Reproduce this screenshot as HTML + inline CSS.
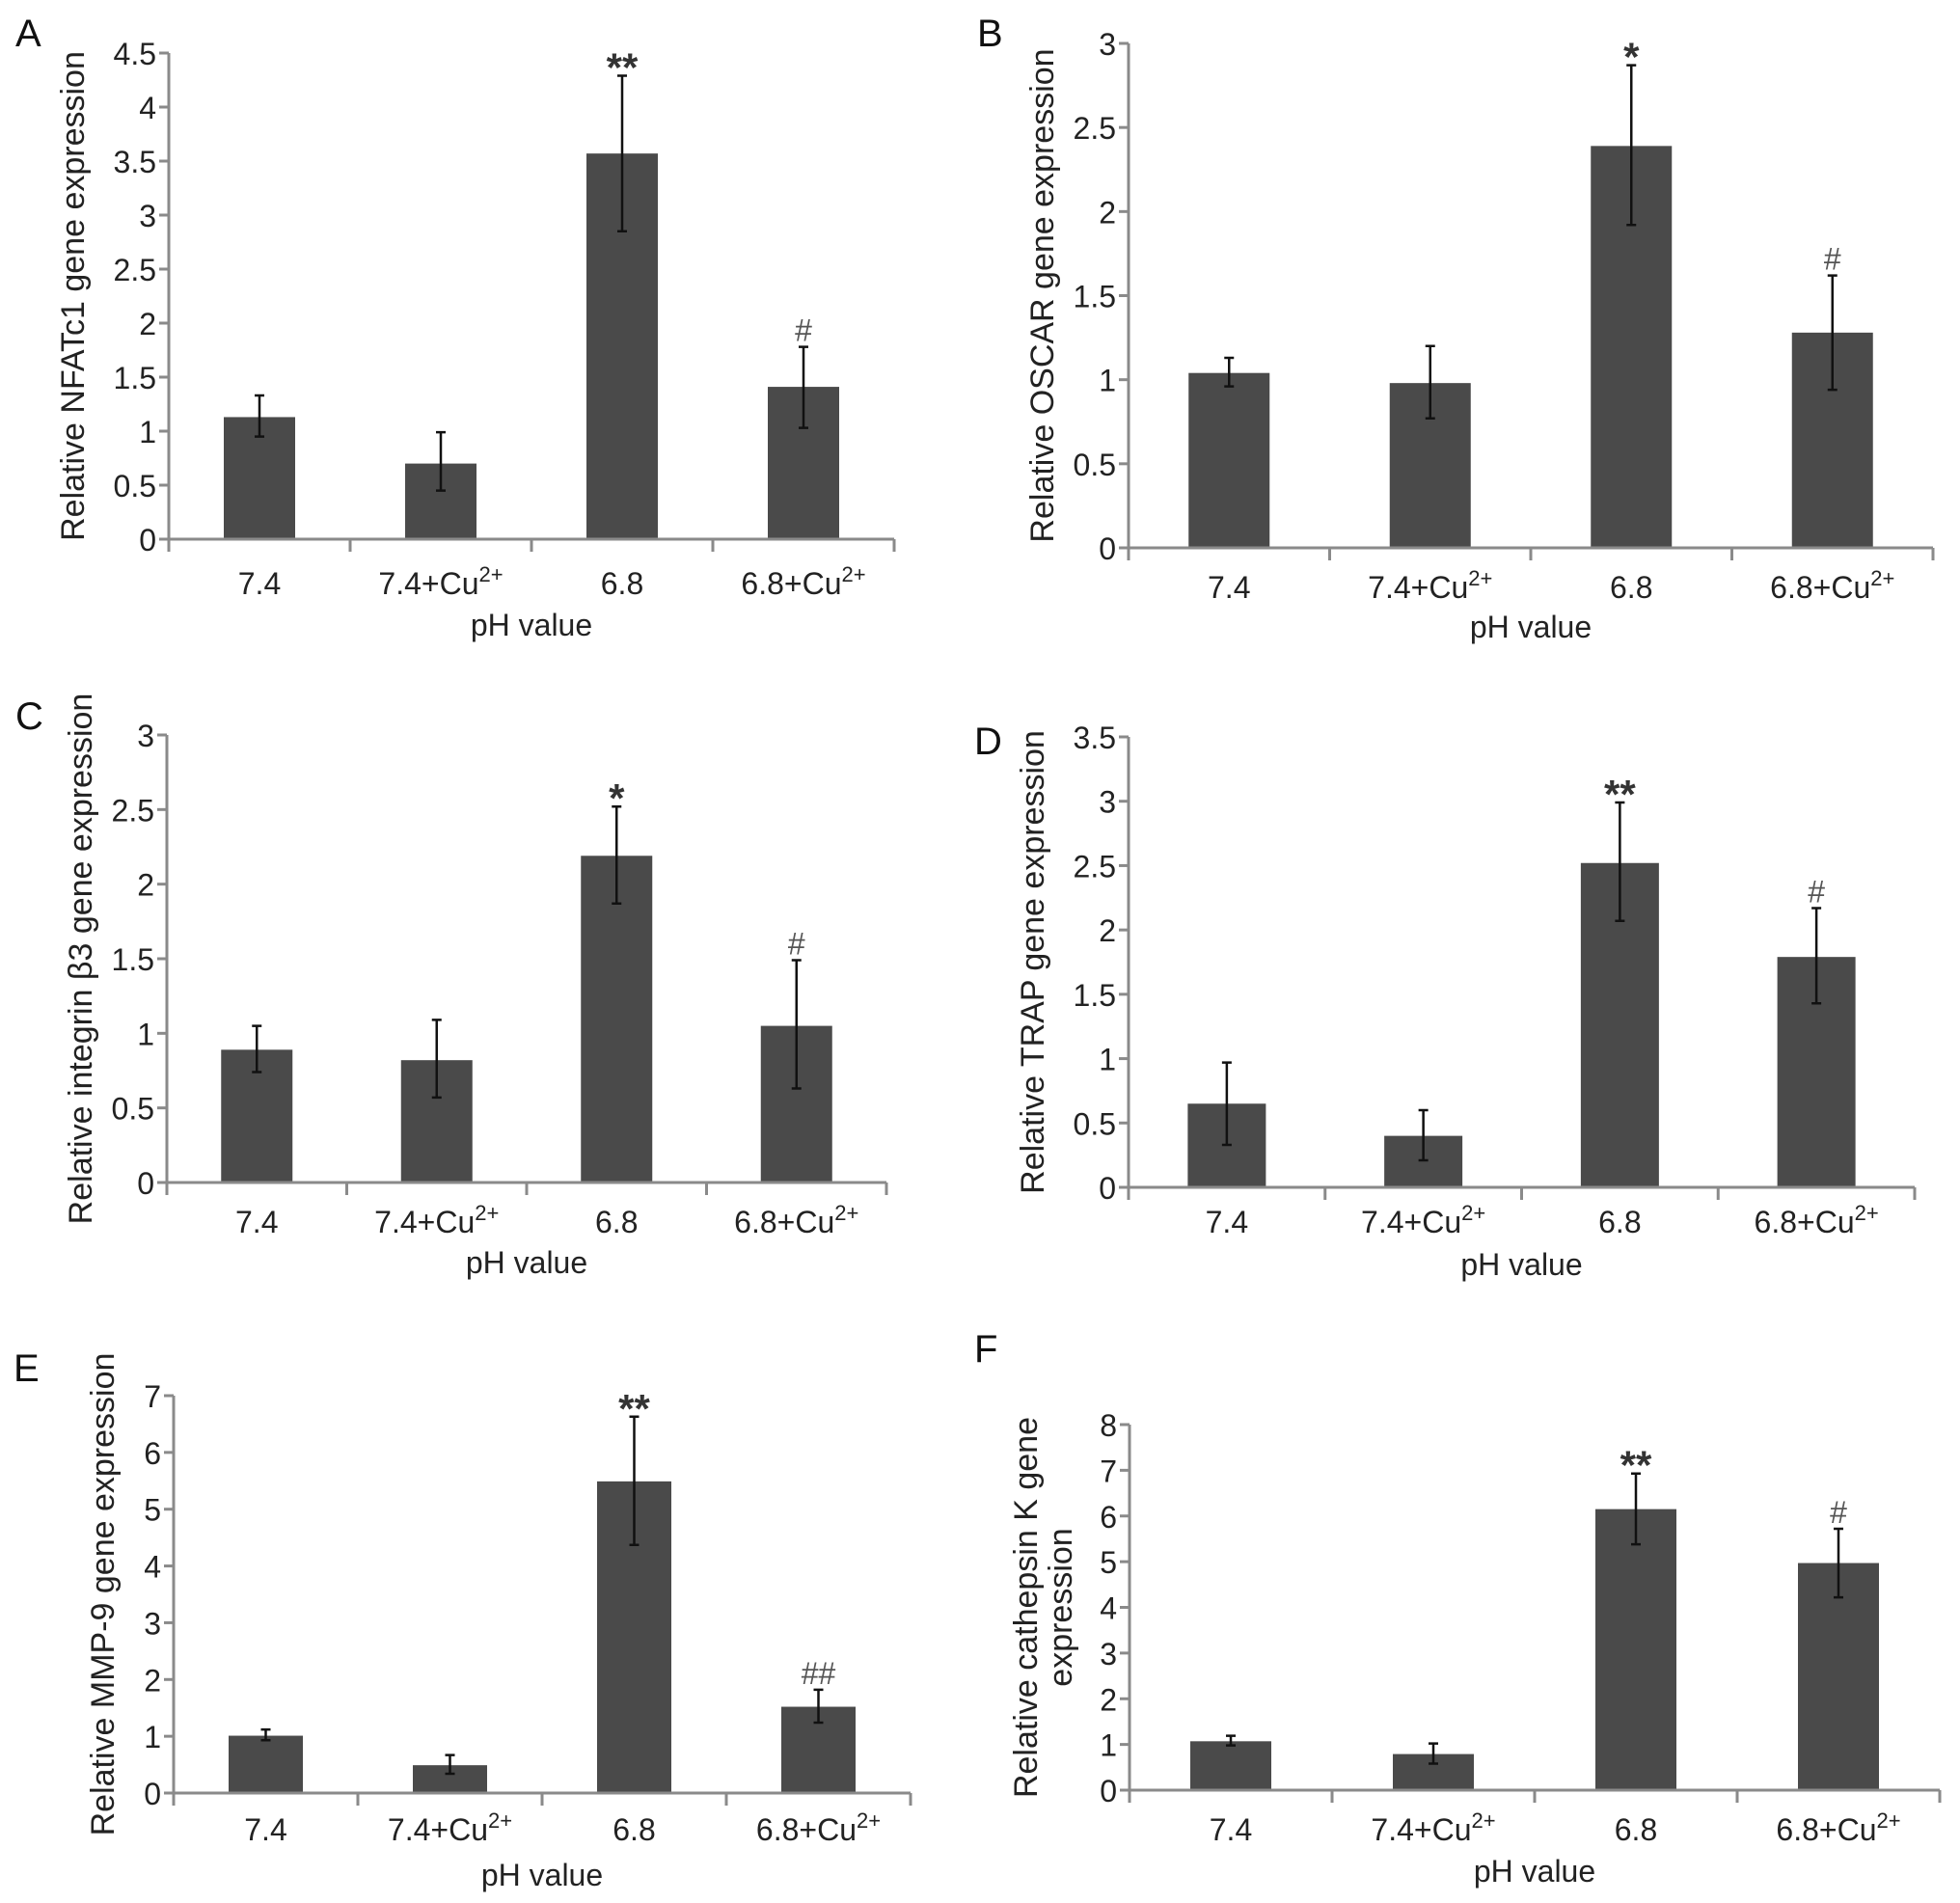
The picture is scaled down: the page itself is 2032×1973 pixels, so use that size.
<!DOCTYPE html>
<html><head><meta charset="utf-8">
<style>
html,body{margin:0;padding:0;background:#fff;}
svg{display:block;font-family:"Liberation Sans",sans-serif;}
</style></head>
<body>
<svg id="fig" width="2032" height="1973" viewBox="0 0 2032 1973" xmlns="http://www.w3.org/2000/svg"></svg>
<script>
const categories = ["7.4", "7.4+Cu", "6.8", "6.8+Cu"];
const supLabels = ["", "2+", "", "2+"];

const meanA = [1.13, 0.70, 3.57, 1.41];
const loA = [0.95, 0.45, 2.85, 1.03];
const hiA = [1.33, 0.99, 4.29, 1.78];
const markA = ["", "", "**", "#"];
const ticksA = ["0","0.5","1","1.5","2","2.5","3","3.5","4","4.5"];

const meanB = [1.04, 0.98, 2.39, 1.28];
const loB = [0.96, 0.77, 1.92, 0.94];
const hiB = [1.13, 1.20, 2.87, 1.62];
const markB = ["", "", "*", "#"];
const ticksB = ["0","0.5","1","1.5","2","2.5","3"];

const meanC = [0.89, 0.82, 2.19, 1.05];
const loC = [0.74, 0.57, 1.87, 0.63];
const hiC = [1.05, 1.09, 2.52, 1.49];
const markC = ["", "", "*", "#"];
const ticksC = ["0","0.5","1","1.5","2","2.5","3"];

const meanD = [0.65, 0.40, 2.52, 1.79];
const loD = [0.33, 0.21, 2.07, 1.43];
const hiD = [0.97, 0.60, 2.99, 2.17];
const markD = ["", "", "**", "#"];
const ticksD = ["0","0.5","1","1.5","2","2.5","3","3.5"];

const meanE = [1.01, 0.49, 5.49, 1.52];
const loE = [0.93, 0.34, 4.37, 1.24];
const hiE = [1.12, 0.67, 6.63, 1.82];
const markE = ["", "", "**", "##"];
const ticksE = ["0","1","2","3","4","5","6","7"];

const meanF = [1.07, 0.79, 6.15, 4.97];
const loF = [0.98, 0.58, 5.38, 4.22];
const hiF = [1.19, 1.02, 6.93, 5.72];
const markF = ["", "", "**", "#"];
const ticksF = ["0","1","2","3","4","5","6","7","8"];

const NS = "http://www.w3.org/2000/svg";
const svg = document.getElementById("fig");

function mk(tag, attrs, parent) {
  const e = document.createElementNS(NS, tag);
  for (const k in attrs) e.setAttribute(k, attrs[k]);
  (parent || svg).appendChild(e);
  return e;
}

function panel(cfg, mean, lo, hi, marks, ticks) {
  const g = mk("g", {});
  
  
  const maxV = parseFloat(ticks[ticks.length - 1]);
  const yS = v => cfg.zero - (v / maxV) * (cfg.zero - cfg.top);
  const band = (cfg.xEnd - cfg.x0) / categories.length;
  const xC = i => cfg.x0 + band * (i + 0.5);

  const L = mk("text", {x: cfg.lx, y: cfg.ly, "font-size": 40, fill: "#111"}, g);
  L.textContent = cfg.letter;
  
  

  mean.forEach((v, i) => {
    const r = mk("rect", {x: xC(i) - cfg.bw / 2, y: yS(v), width: cfg.bw, height: cfg.zero - yS(v), fill: "#4a4a4a"}, g);
    
    
  });
  const ax = mk("path", {d: `M${cfg.x0},${cfg.top} V${cfg.zero} H${cfg.xEnd}`, stroke: "#8a8a8a", "stroke-width": 3, fill: "none"}, g);
  
  
  ticks.forEach(t => {
    const y = yS(parseFloat(t));
    const tk = mk("line", {x1: cfg.x0 - 10, x2: cfg.x0, y1: y, y2: y, stroke: "#8a8a8a", "stroke-width": 3}, g);
    
    
    const tl = mk("text", {x: cfg.x0 - 13, y: y + 12, "font-size": 32, "text-anchor": "end", fill: "#222"}, g);
    tl.textContent = t;
    
    
  });
  for (let i = 0; i <= categories.length; i++) {
    const x = cfg.x0 + band * i;
    const tk = mk("line", {x1: x, x2: x, y1: cfg.zero, y2: cfg.zero + 13, stroke: "#8a8a8a", "stroke-width": 3}, g);
    
    
  }
  categories.forEach((c, i) => {
    const t = mk("text", {x: xC(i), y: cfg.cy + 12, "font-size": 32, "text-anchor": "middle", fill: "#222"}, g);
    t.textContent = c;
    if (supLabels[i]) {
      const s = mk("tspan", {"font-size": 22, dy: -13}, t);
      s.textContent = supLabels[i];
    }
    
    
  });
  const xt = mk("text", {x: (cfg.x0 + cfg.xEnd) / 2, y: cfg.py + 12, "font-size": 32, "text-anchor": "middle", fill: "#222"}, g);
  xt.textContent = "pH value";
  
  
  cfg.ytitle.forEach((line, k) => {
    const yx = cfg.ytx[k];
    const yy = (cfg.top + cfg.zero) / 2;
    const yt = mk("text", {x: yx, y: yy, "font-size": 34, "text-anchor": "middle", "dominant-baseline": "central", fill: "#222", transform: `rotate(-90 ${yx} ${yy})`}, g);
    yt.textContent = line;
    
    
  });
  mean.forEach((v, i) => {
    const x = xC(i);
    const e = mk("path", {d: `M${x},${yS(lo[i])} V${yS(hi[i])} M${x - 5},${yS(lo[i])} H${x + 5} M${x - 5},${yS(hi[i])} H${x + 5}`, stroke: "#111", "stroke-width": 2.5, fill: "none"}, g);
    
    
    if (marks[i]) {
      const star = marks[i].indexOf("*") >= 0;
      const m = mk("text", {x: x, y: yS(hi[i]) + (star ? 6 : -6), "font-size": star ? 42 : 32, "font-weight": star ? "bold" : "normal", "text-anchor": "middle", fill: star ? "#333" : "#555"}, g);
      m.textContent = marks[i];
      
      
    }
  });
}

panel({letter: "A", lx: 16, ly: 48, x0: 175, xEnd: 927, top: 55, zero: 559, bw: 74, cy: 604, py: 647, ytitle: ["Relative NFATc1 gene expression"], ytx: [76]}, meanA, loA, hiA, markA, ticksA);
panel({letter: "B", lx: 1013, ly: 48, x0: 1170, xEnd: 2004, top: 45, zero: 568, bw: 84, cy: 608, py: 649, ytitle: ["Relative OSCAR gene expression"], ytx: [1081]}, meanB, loB, hiB, markB, ticksB);
panel({letter: "C", lx: 16, ly: 756, x0: 173, xEnd: 919, top: 762, zero: 1226, bw: 74, cy: 1266, py: 1308, ytitle: ["Relative integrin \u03b23 gene expression"], ytx: [84]}, meanC, loC, hiC, markC, ticksC);
panel({letter: "D", lx: 1010, ly: 782, x0: 1170, xEnd: 1985, top: 764, zero: 1231, bw: 81, cy: 1266, py: 1310, ytitle: ["Relative TRAP gene expression"], ytx: [1071]}, meanD, loD, hiD, markD, ticksD);
panel({letter: "E", lx: 14, ly: 1432, x0: 180, xEnd: 944, top: 1447, zero: 1859, bw: 77, cy: 1896, py: 1943, ytitle: ["Relative MMP-9 gene expression"], ytx: [107]}, meanE, loE, hiE, markE, ticksE);
panel({letter: "F", lx: 1010, ly: 1412, x0: 1171, xEnd: 2011, top: 1477, zero: 1856, bw: 84, cy: 1896, py: 1939, ytitle: ["Relative cathepsin K gene", "expression"], ytx: [1064, 1100]}, meanF, loF, hiF, markF, ticksF);
</script>
</body></html>
